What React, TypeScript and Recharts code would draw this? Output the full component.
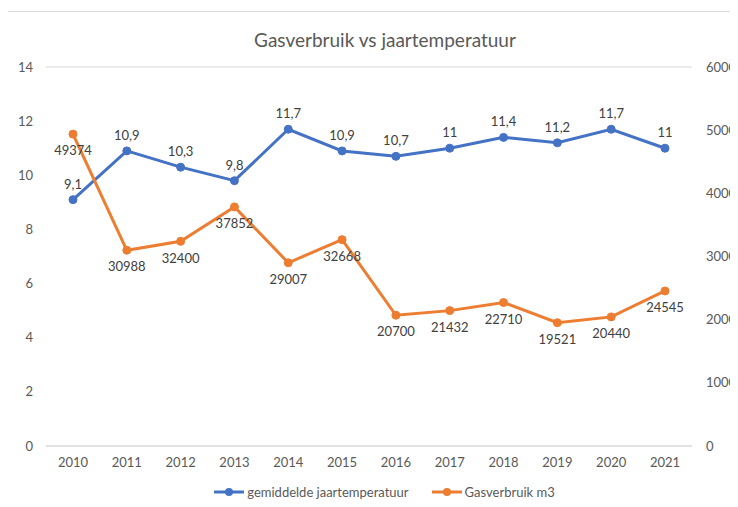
import React from 'react'
import { ComposedChart, Line, XAxis, YAxis, CartesianGrid, LabelList } from 'recharts'

const years = ['2010', '2011', '2012', '2013', '2014', '2015', '2016', '2017', '2018', '2019', '2020', '2021']
const temperatuur = [9.1, 10.9, 10.3, 9.8, 11.7, 10.9, 10.7, 11, 11.4, 11.2, 11.7, 11]
const gasverbruik = [49374, 30988, 32400, 37852, 29007, 32668, 20700, 21432, 22710, 19521, 20440, 24545]
const leftTicks = [0, 2, 4, 6, 8, 10, 12, 14]
const rightTicks = [0, 10000, 20000, 30000, 40000, 50000, 60000]

const data = years.map((jaar, i) => ({
  jaar,
  temp: temperatuur[i],
  gas: gasverbruik[i],
}))

const BLUE = '#4472C4'
const ORANGE = '#ED7D31'
const FONT = 'Lato, "Open Sans", sans-serif'
const tickStyle = { fill: '#595959', fontSize: 13, fontFamily: FONT }
const labelStyle = { fill: '#404040', fontSize: 13, fontFamily: FONT }

const LegendItem = ({ color, text }: { color: string; text: string }) => (
  <span style={{ display: 'inline-flex', alignItems: 'center', marginRight: 22 }}>
    <svg width={32} height={10} style={{ marginRight: 2 }}>
      <line x1={1} y1={5} x2={31} y2={5} stroke={color} strokeWidth={3} />
      <circle cx={16} cy={5} r={4} fill={color} />
    </svg>
    {text}
  </span>
)

export default function App() {
  return (
    <div
      style={{
        position: 'relative',
        width: 731,
        height: 496,
        marginLeft: -1,
        marginTop: 3,
        borderLeft: '1px solid #d9d9d9',
        borderTop: '1px solid #d9d9d9',
        fontFamily: FONT,
        overflow: 'hidden',
      }}
    >
      <div
        style={{
          position: 'absolute',
          top: 16,
          left: 0,
          width: 754,
          textAlign: 'center',
          fontSize: 19,
          color: '#595959',
        }}
      >
        Gasverbruik vs jaartemperatuur
      </div>
      <ComposedChart
        width={730}
        height={495}
        data={data}
        margin={{ top: 55, right: 0, bottom: 31, left: 0 }}
      >
        <CartesianGrid vertical={false} stroke="#d9d9d9" />
        <XAxis
          dataKey="jaar"
          padding={{ left: 27, right: 27 }}
          axisLine={{ stroke: '#d9d9d9' }}
          tickLine={false}
          tickSize={0}
          tickMargin={12}
          tick={tickStyle}
          height={30}
        />
        <YAxis
          yAxisId="left"
          domain={[0, 14]}
          ticks={leftTicks}
          axisLine={false}
          tickLine={false}
          tickSize={0}
          tickMargin={13}
          tick={tickStyle}
          width={38}
        />
        <YAxis
          yAxisId="right"
          orientation="right"
          domain={[0, 60000]}
          ticks={rightTicks}
          axisLine={false}
          tickLine={false}
          tickSize={0}
          tickMargin={14}
          tick={{ ...tickStyle, textAnchor: 'start' }}
          width={46}
        />
        <Line
          yAxisId="left"
          dataKey="temp"
          stroke={BLUE}
          strokeWidth={3}
          dot={{ r: 4, fill: BLUE, stroke: BLUE, strokeWidth: 1 }}
          isAnimationActive={false}
        >
          <LabelList
            dataKey="temp"
            position="top"
            offset={11}
            style={labelStyle}
            formatter={(v: any) => String(v).replace('.', ',')}
          />
        </Line>
        <Line
          yAxisId="right"
          dataKey="gas"
          stroke={ORANGE}
          strokeWidth={3}
          dot={{ r: 4, fill: ORANGE, stroke: ORANGE, strokeWidth: 1 }}
          isAnimationActive={false}
        >
          <LabelList dataKey="gas" position="bottom" offset={12} style={labelStyle} />
        </Line>
      </ComposedChart>
      <div
        style={{
          position: 'absolute',
          top: 472,
          left: 0,
          width: 774,
          textAlign: 'center',
          fontSize: 13,
          color: '#595959',
        }}
      >
        <LegendItem color={BLUE} text="gemiddelde jaartemperatuur" />
        <LegendItem color={ORANGE} text="Gasverbruik m3" />
      </div>
    </div>
  )
}
